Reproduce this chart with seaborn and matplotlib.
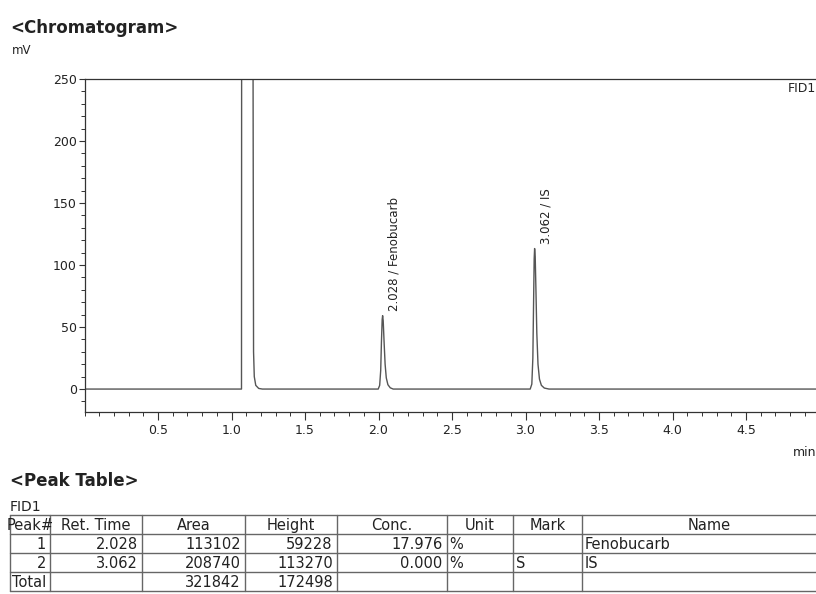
import numpy as np
import matplotlib
matplotlib.use("Agg")
import matplotlib.pyplot as plt
from matplotlib.ticker import MultipleLocator, FixedLocator
import seaborn as sns

# ── Data ──────────────────────────────────────────────────────────
# detector trace (min, mV); solvent peak is off scale
trace_time = [0.000, 1.068, 1.069, 1.146, 1.150, 1.155, 1.165, 1.185, 1.210,
              1.998, 2.008, 2.015, 2.020, 2.025, 2.028, 2.032, 2.038, 2.045,
              2.053, 2.064, 2.080, 2.100,
              3.032, 3.043, 3.050, 3.055, 3.059, 3.062, 3.066, 3.071, 3.077,
              3.085, 3.095, 3.108, 3.128, 3.160, 5.000]
trace_mv = [0.0, 0.0, 300.0, 300.0, 30.0, 10.0, 3.0, 0.5, 0.0,
            0.0, 3.0, 15.0, 38.0, 56.0, 59.2, 55.0, 38.0, 20.0,
            9.0, 3.5, 1.0, 0.0,
            0.0, 4.0, 25.0, 70.0, 105.0, 113.3, 107.0, 80.0, 45.0,
            20.0, 8.0, 3.0, 0.8, 0.0, 0.0]

peak_rt = [2.028, 3.062]
peak_name = ["Fenobucarb", "IS"]

# peak table
tbl_header = ["Peak#", "Ret. Time", "Area", "Height", "Conc.", "Unit", "Mark", "Name"]
tbl_peak = ["1", "2", "Total"]
tbl_rt = ["2.028", "3.062", ""]
tbl_area = ["113102", "208740", "321842"]
tbl_height = ["59228", "113270", "172498"]
tbl_conc = ["17.976", "0.000", ""]
tbl_unit = ["%", "%", ""]
tbl_mark = ["", "S", ""]
tbl_name = ["Fenobucarb", "IS", ""]

# ── Layout helpers ────────────────────────────────────────────────
W, H = 816, 594
def px_rect(l, t, r, b):
    return [l / W, 1 - b / H, (r - l) / W, (b - t) / H]

sns.set_style("ticks")
plt.rcParams["font.family"] = ["DejaVu Sans"]
ink = "#222222"

fig = plt.figure(figsize=(W / 100, H / 100), dpi=100)

# ── Chromatogram ──────────────────────────────────────────────────
ax = fig.add_axes(px_rect(84.5, 79, 84.5 + 147 * 5.0, 412))
sns.lineplot(x=trace_time, y=trace_mv, ax=ax, color="#555555",
             linewidth=1.0, sort=False)
ax.set_xlim(0, 5.0)
ax.set_ylim(-18.5, 250)

ax.xaxis.set_major_locator(FixedLocator([0.5, 1.0, 1.5, 2.0, 2.5, 3.0, 3.5, 4.0, 4.5]))
ax.xaxis.set_minor_locator(MultipleLocator(0.1))
ax.yaxis.set_major_locator(FixedLocator([0, 50, 100, 150, 200, 250]))
ax.yaxis.set_minor_locator(MultipleLocator(10))
ax.tick_params(axis="both", which="major", labelsize=9, colors="#333333",
               labelcolor=ink, width=0.8)
ax.tick_params(axis="x", which="major", length=5.5, pad=3)
ax.tick_params(axis="y", which="major", length=4.5, pad=1)
ax.tick_params(axis="both", which="minor", length=2.8, width=0.7, colors="#333333")
ax.set_xticklabels(["0.5", "1.0", "1.5", "2.0", "2.5", "3.0", "3.5", "4.0", "4.5"])
for s in ["left", "bottom", "top"]:
    ax.spines[s].set_color("#333333")
    ax.spines[s].set_linewidth(0.9)
ax.spines["right"].set_visible(False)
ax.set_xlabel("")
ax.set_ylabel("")

pk_h = [trace_mv[trace_time.index(rt)] for rt in peak_rt]
for rt, h, nm in zip(peak_rt, pk_h, peak_name):
    ax.text(rt + 0.077, h + 4, f"{rt:.3f} / {nm}", rotation=90,
            ha="center", va="bottom", fontsize=8.5, color=ink)

ax.text(4.975, 242, "FID1", ha="right", va="center", fontsize=9, color=ink)

fig.text(10 / W, 1 - 28 / H, "<Chromatogram>", fontsize=12, fontweight="bold",
         ha="left", va="center", color=ink)
fig.text(12 / W, 1 - 50 / H, "mV", fontsize=8.5, ha="left", va="center", color=ink)
fig.text(816 / W, 1 - 452 / H, "min", fontsize=9, ha="right", va="center", color=ink)

# ── Peak table ────────────────────────────────────────────────────
fig.text(10 / W, 1 - 481 / H, "<Peak Table>", fontsize=12, fontweight="bold",
         ha="left", va="center", color=ink)
fig.text(10 / W, 1 - 507 / H, "FID1", fontsize=10, ha="left", va="center", color=ink)

col_w = [40, 91.7, 103.3, 91.7, 110, 66.3, 68.7, 254]
col_align = ["right", "right", "right", "right", "right", "left", "left", "left"]
row_h = 19
rows = list(zip(tbl_peak, tbl_rt, tbl_area, tbl_height, tbl_conc,
                tbl_unit, tbl_mark, tbl_name))
edges = np.concatenate([[0], np.cumsum(col_w)])
n_rows = len(rows) + 1

tax = fig.add_axes(px_rect(10, 515, 10 + edges[-1], 515 + row_h * n_rows))
tax.set_xlim(0, edges[-1])
tax.set_ylim(row_h * n_rows, 0)
tax.axis("off")

line_kw = dict(color="#666666", linewidth=1.0, clip_on=False)
for i in range(n_rows + 1):
    tax.plot([0, edges[-1]], [i * row_h, i * row_h], **line_kw)
for e in edges:
    tax.plot([e, e], [0, n_rows * row_h], **line_kw)

for j, lab in enumerate(tbl_header):
    tax.text((edges[j] + edges[j + 1]) / 2, row_h * 0.55, lab,
             ha="center", va="center", fontsize=10.5, color=ink)
for i, row in enumerate(rows):
    yc = row_h * (i + 1.55)
    for j, val in enumerate(row):
        if col_align[j] == "right":
            tax.text(edges[j + 1] - 4, yc, val, ha="right", va="center",
                     fontsize=10.5, color=ink)
        else:
            tax.text(edges[j] + 3, yc, val, ha="left", va="center",
                     fontsize=10.5, color=ink)

fig.savefig("out.png", dpi=100, facecolor="white")
